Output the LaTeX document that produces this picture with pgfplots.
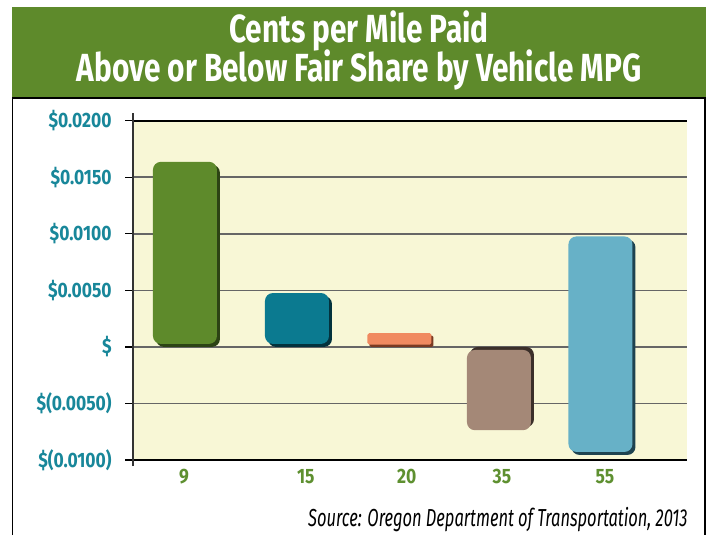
\documentclass[border=0pt]{standalone}
\usepackage{pgfplots}
\pgfplotsset{compat=1.18}
\usepackage{fontspec}
\setmainfont{Fira Sans}
\newfontfamily\cond{Fira Sans}[FakeStretch=0.84]
\newfontfamily\srcfont{Fira Sans}[FakeStretch=0.67]
\newfontfamily\titlefont{Fira Sans}[FakeStretch=0.76]
\definecolor{bannergreen}{HTML}{5E8A2B}
\definecolor{plotbg}{HTML}{F8F7D6}
\definecolor{gA}{HTML}{5E8A2B}\definecolor{gAd}{HTML}{2C4314}
\definecolor{tB}{HTML}{0B7A90}\definecolor{tBd}{HTML}{03323D}
\definecolor{oC}{HTML}{F08A60}\definecolor{oCd}{HTML}{7A3A22}
\definecolor{bD}{HTML}{A48877}\definecolor{bDd}{HTML}{3B2F29}
\definecolor{lE}{HTML}{67B1C7}\definecolor{lEd}{HTML}{1E4350}
\definecolor{tickteal}{HTML}{18879A}
\definecolor{xgreen}{HTML}{5E9030}
\begin{document}
\begin{tikzpicture}
\fill[white] (0,0) rectangle (355pt,266.5pt);
\fill[bannergreen] (6pt,218pt) rectangle (353pt,263pt);
\draw[black, line width=0.8pt] (6.3pt,-1pt) -- (6.3pt,217.4pt) -- (352.6pt,217.4pt) -- (352.6pt,-1pt);
\node[anchor=base, white, inner sep=0pt, font=\titlefont\bfseries\fontsize{19.6}{22}\selectfont] at (179.5pt,245pt) {Cents per Mile Paid};
\node[anchor=base, white, inner sep=0pt, font=\titlefont\bfseries\fontsize{19.6}{22}\selectfont] at (179.5pt,225.5pt) {Above or Below Fair Share by Vehicle MPG};
\node[anchor=base east, inner sep=0pt, font=\srcfont\itshape\fontsize{12.3}{14}\selectfont] at (344pt,3.5pt) {Source: Oregon Department of Transportation, 2013};
\begin{axis}[
  at={(66.5pt,36.5pt)}, anchor=south west,
  scale only axis, width=277pt, height=169.65pt,
  xmin=0, xmax=5, ymin=-0.01, ymax=0.02,
  clip=false,
  axis background/.style={fill=plotbg},
  axis line style={draw=none},
  ymajorgrids, grid style={black!60, line width=0.8pt},
  ytick={-0.01,-0.005,0,0.005,0.01,0.015,0.02},
  yticklabels={\$(0.0100),\$(0.0050),\$,\$0.0050,\$0.0100,\$0.0150,\$0.0200},
  scaled y ticks=false,
  ytick pos=left, tick align=outside, major tick length=4pt,
  ytick style={black, line width=0.6pt},
  yticklabel style={font=\cond\bfseries\fontsize{10.4}{12}\selectfont, text=tickteal, anchor=east, inner sep=0pt, xshift=-6.5pt},
  xtick={0.46,1.56,2.47,3.33,4.26}, xticklabels={9,15,20,35,55},
  xtick style={draw=none},
  xticklabel style={font=\cond\bfseries\fontsize{10.4}{12}\selectfont, text=xgreen, anchor=north, inner sep=0pt, yshift=-0.3pt},
]
% MPG 9
\addplot[ybar, bar width=32pt, bar shift=0pt, fill=gAd, draw=none, rounded corners=4pt] coordinates {(0.496,0.0161)};
\addplot[ybar, bar width=32pt, bar shift=0pt, fill=gA, draw=none, rounded corners=4pt, xshift=-1.5pt, yshift=1.5pt] coordinates {(0.496,0.0161)};
% MPG 15
\addplot[ybar, bar width=32pt, bar shift=0pt, fill=tBd, draw=none, rounded corners=4pt] coordinates {(1.507,0.0045)};
\addplot[ybar, bar width=32pt, bar shift=0pt, fill=tB, draw=none, rounded corners=4pt, xshift=-1.5pt, yshift=1.5pt] coordinates {(1.507,0.0045)};
% MPG 20
\addplot[ybar, bar width=32pt, bar shift=0pt, fill=oCd, draw=none, rounded corners=0.8pt] coordinates {(2.423,0.001)};
\addplot[ybar, bar width=32pt, bar shift=0pt, fill=oC, draw=none, rounded corners=0.8pt, xshift=-1pt, yshift=1.2pt] coordinates {(2.423,0.001)};
% MPG 35
\addplot[ybar, bar width=32pt, bar shift=0pt, fill=bDd, draw=none, rounded corners=4pt] coordinates {(3.33,-0.0071)};
\addplot[ybar, bar width=32pt, bar shift=0pt, fill=bD, draw=none, rounded corners=4pt, xshift=-1.5pt, yshift=-1.5pt] coordinates {(3.33,-0.0071)};
% MPG 55 (floating bar)
\addplot[fill=lEd, draw=none, rounded corners=4pt] coordinates {(3.957,-0.00955) (4.535,-0.00955) (4.535,0.0095) (3.957,0.0095)} -- cycle;
\addplot[fill=lE, draw=none, rounded corners=4pt, xshift=-1.5pt, yshift=1.5pt] coordinates {(3.957,-0.00955) (4.535,-0.00955) (4.535,0.0095) (3.957,0.0095)} -- cycle;
% axis lines
\draw[black, line width=0.8pt] (rel axis cs:0,0) -- (rel axis cs:1,0);
\draw[black, line width=0.8pt] (rel axis cs:0,1) -- (rel axis cs:1,1);
\draw[black!80, line width=0.75pt] (rel axis cs:0,-0.018) -- (rel axis cs:0,1.023);
\end{axis}
\end{tikzpicture}
\end{document}
